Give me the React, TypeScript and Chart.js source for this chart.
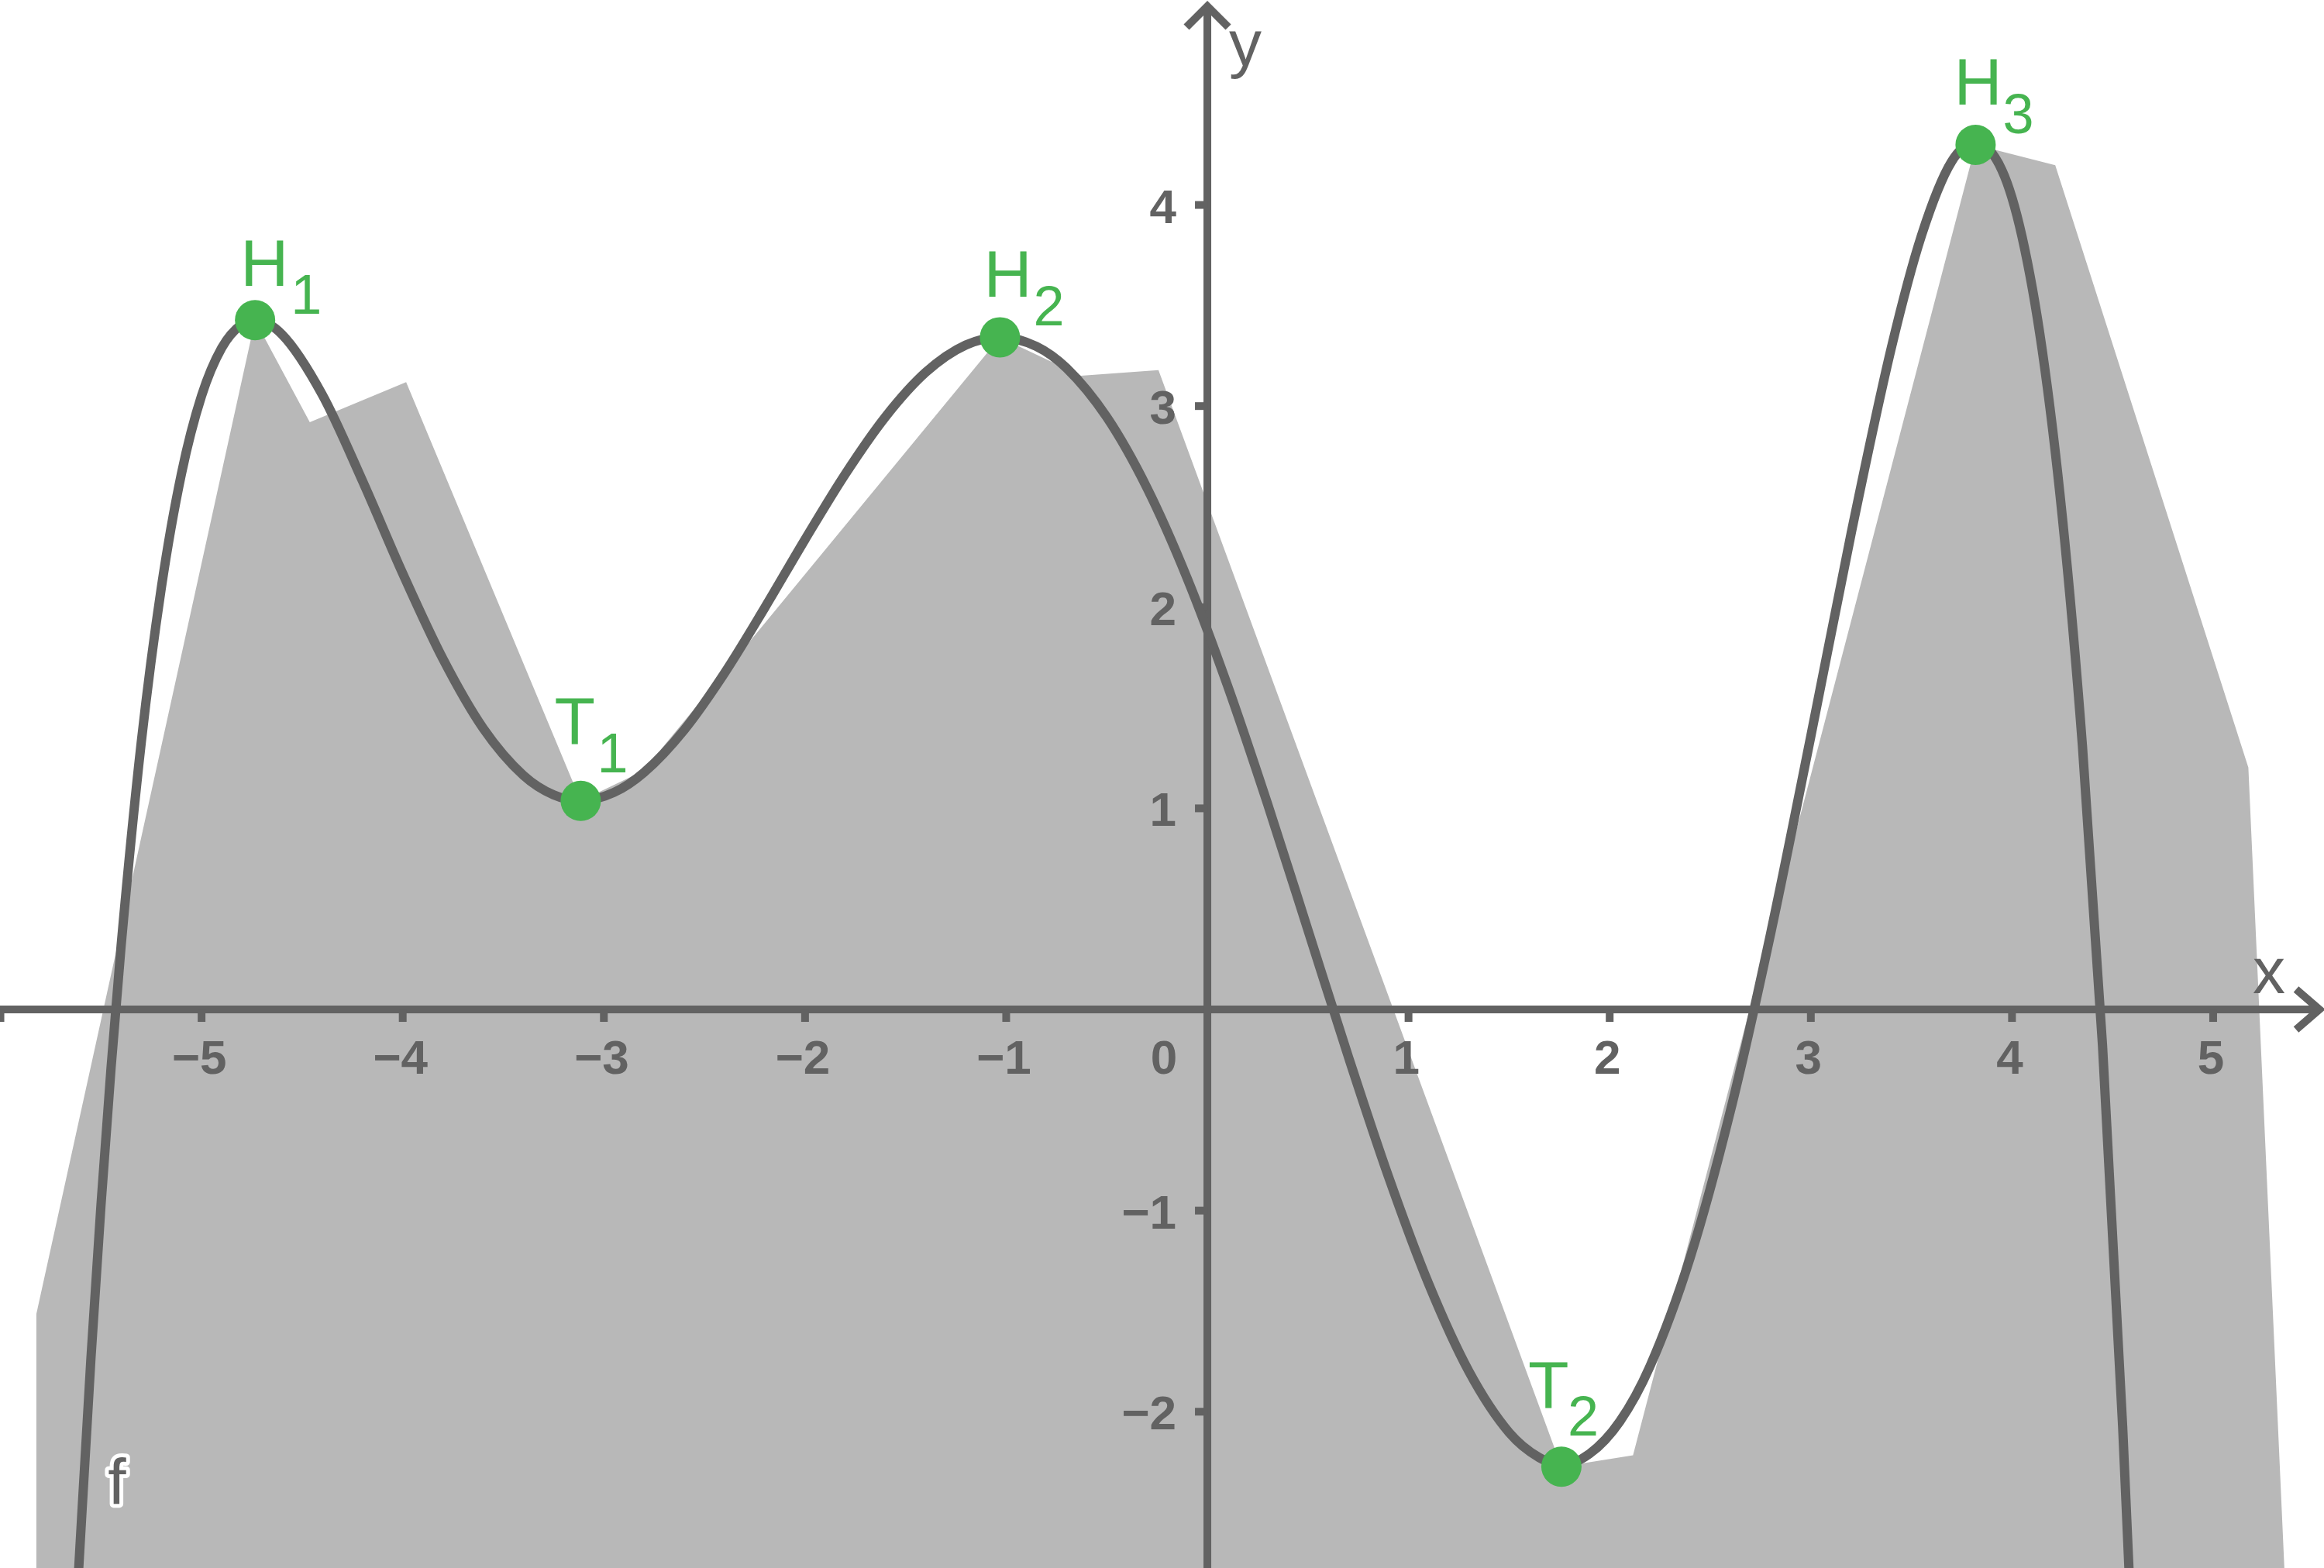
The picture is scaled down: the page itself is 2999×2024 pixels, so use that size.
import React, { useEffect, useRef } from 'react';
import { Chart, registerables } from 'chart.js';

Chart.register(...registerables);

// ---- axis ranges (data units) ----
const X_MIN = -6.002;
const X_MAX = 5.551;
const Y_MIN = -2.777;
const Y_MAX = 5.019;

// ---- the function graph f ----
const curveX = [
  -5.62, -5.55, -5.5, -5.45, -5.4, -5.3, -5.2, -5.1, -5.0, -4.9,
  -4.8, -4.734, -4.6, -4.4, -4.2, -4.0, -3.8, -3.6, -3.4, -3.25,
  -3.115, -2.95, -2.8, -2.6, -2.4, -2.2, -2.0, -1.8, -1.6, -1.4,
  -1.2, -1.031, -0.85, -0.7, -0.5, -0.3, -0.1, 0.1, 0.3, 0.5,
  0.7, 0.9, 1.1, 1.3, 1.5, 1.65, 1.76, 1.9, 2.05, 2.2,
  2.4, 2.6, 2.8, 3.0, 3.2, 3.4, 3.55, 3.7, 3.819, 3.95,
  4.05, 4.15, 4.25, 4.35, 4.45, 4.55, 4.62,
];
const curveY = [
  -2.942, -1.736, -0.973, -0.291, 0.316, 1.326, 2.097, 2.664, 3.051, 3.289,
  3.407, 3.427, 3.356, 3.057, 2.628, 2.168, 1.743, 1.398, 1.164, 1.067,
  1.038, 1.079, 1.179, 1.391, 1.673, 1.998, 2.337, 2.662, 2.947, 3.168,
  3.304, 3.342, 3.297, 3.189, 2.945, 2.593, 2.143, 1.611, 1.02, 0.395,
  -0.232, -0.83, -1.364, -1.799, -2.103, -2.228, -2.265, -2.209, -2.049, -1.775,
  -1.234, -0.505, 0.377, 1.359, 2.365, 3.289, 3.848, 4.216, 4.308, 4.173,
  3.842, 3.28, 2.45, 1.312, -0.18, -2.072, -3.666,
];

// ---- grey polygon (vertices) ----
const shadeX = [-5.822, -4.734, -4.462, -3.983, -3.115, -2.804, -1.031, -0.628, -0.243, 1.76, 2.116, 3.819, 4.215, 5.175, 5.364];
const shadeY = [-1.517, 3.427, 2.92, 3.119, 1.037, 1.186, 3.342, 3.151, 3.179, -2.273, -2.217, 4.299, 4.198, 1.203, -3.0];

// ---- extrema ----
const extremaX = [-4.734, -3.115, -1.031, 1.76, 3.819];
const extremaY = [3.427, 1.037, 3.342, -2.273, 4.299];
const extremaName = ['H', 'T', 'H', 'T', 'H'];
const extremaIndex = ['1', '1', '2', '2', '3'];

// ---- ticks ----
const xTickValues = [-6, -5, -4, -3, -2, -1, 1, 2, 3, 4, 5];
const xTickLabels = ['', '\u22125', '\u22124', '\u22123', '\u22122', '\u22121', '1', '2', '3', '4', '5'];
const yTickValues = [-2, -1, 1, 2, 3, 4];
const yTickLabels = ['\u22122', '\u22121', '1', '2', '3', '4'];
const originLabel = '0';
const axisNames = ['x', 'y'];
const functionName = 'f';
const functionLabelAt = { x: -5.462, y: -2.461 };

// ---- styles ----
const DARK = '#626262';
const GREY = '#b8b8b8';
const GREEN = '#46b450';
const FONT = '"Liberation Sans", Arial, Helvetica, sans-serif';
const labelMainDX = [-12, -33, -14, -42, -21];
const labelMainDY = [-44, -74, -52, -76, -52];
const labelSubDX = [51, 26, 46, 11, 37];
const labelSubDY = [-8, -37, -15, -40, -15];

function textLeft(ctx: CanvasRenderingContext2D, s: string, left: number, base: number) {
  const m = ctx.measureText(s);
  ctx.fillText(s, left + m.actualBoundingBoxLeft, base);
}

const geoPlugin = {
  id: 'geoAxes',
  afterDatasetDraw(chart: any, args: any) {
    if (args.index !== 2) return;
    const ctx: CanvasRenderingContext2D = chart.ctx;
    const xs = chart.scales.x;
    const ys = chart.scales.y;
    const area = chart.chartArea;
    const ox = xs.getPixelForValue(0);
    const oy = ys.getPixelForValue(0);
    ctx.save();
    ctx.strokeStyle = DARK;
    ctx.fillStyle = DARK;
    ctx.lineWidth = 10;
    ctx.lineCap = 'butt';
    // x axis
    const xTip = area.right - 6;
    ctx.beginPath();
    ctx.moveTo(area.left, oy);
    ctx.lineTo(xTip, oy);
    ctx.stroke();
    ctx.lineJoin = 'miter';
    ctx.beginPath();
    ctx.moveTo(xTip - 30, oy - 26);
    ctx.lineTo(xTip, oy);
    ctx.lineTo(xTip - 30, oy + 26);
    ctx.stroke();
    // y axis
    const yTip = area.top + 8;
    ctx.beginPath();
    ctx.moveTo(ox, area.bottom);
    ctx.lineTo(ox, yTip);
    ctx.stroke();
    ctx.beginPath();
    ctx.moveTo(ox - 27, yTip + 27);
    ctx.lineTo(ox, yTip);
    ctx.lineTo(ox + 27, yTip + 27);
    ctx.stroke();
    // ticks
    xTickValues.forEach((v) => {
      const px = xs.getPixelForValue(v);
      ctx.beginPath();
      ctx.moveTo(px, oy);
      ctx.lineTo(px, oy + 16);
      ctx.stroke();
    });
    yTickValues.forEach((v) => {
      const py = ys.getPixelForValue(v);
      ctx.beginPath();
      ctx.moveTo(ox, py);
      ctx.lineTo(ox - 16, py);
      ctx.stroke();
    });
    // tick labels
    ctx.font = `bold 62px ${FONT}`;
    ctx.textBaseline = 'alphabetic';
    ctx.textAlign = 'center';
    xTickValues.forEach((v, i) => {
      if (!xTickLabels[i]) return;
      ctx.fillText(xTickLabels[i], xs.getPixelForValue(v) - 3, oy + 83);
    });
    ctx.fillText(originLabel, ox - 56, oy + 83);
    ctx.textAlign = 'right';
    yTickValues.forEach((v, i) => {
      ctx.fillText(yTickLabels[i], ox - 40, ys.getPixelForValue(v) + 23);
    });
    // axis names
    ctx.textAlign = 'left';
    ctx.font = `84px ${FONT}`;
    textLeft(ctx, axisNames[0], area.right - 92, oy - 21);
    textLeft(ctx, axisNames[1], ox + 28, area.top + 85);
    ctx.restore();
  },
  afterDatasetsDraw(chart: any) {
    const ctx: CanvasRenderingContext2D = chart.ctx;
    const xs = chart.scales.x;
    const ys = chart.scales.y;
    ctx.save();
    ctx.textAlign = 'left';
    ctx.textBaseline = 'alphabetic';
    // function name with white halo
    ctx.font = `84px ${FONT}`;
    const fx = xs.getPixelForValue(functionLabelAt.x);
    const fy = ys.getPixelForValue(functionLabelAt.y);
    const m = ctx.measureText(functionName);
    ctx.lineWidth = 10;
    ctx.lineJoin = 'round';
    ctx.strokeStyle = '#ffffff';
    ctx.strokeText(functionName, fx + m.actualBoundingBoxLeft, fy);
    ctx.fillStyle = DARK;
    ctx.fillText(functionName, fx + m.actualBoundingBoxLeft, fy);
    // extrema labels
    ctx.fillStyle = GREEN;
    extremaX.forEach((x, i) => {
      const px = xs.getPixelForValue(x);
      const py = ys.getPixelForValue(extremaY[i]);
      ctx.font = `86px ${FONT}`;
      textLeft(ctx, extremaName[i], px + labelMainDX[i], py + labelMainDY[i]);
      ctx.font = `72px ${FONT}`;
      textLeft(ctx, extremaIndex[i], px + labelSubDX[i], py + labelSubDY[i]);
    });
    ctx.restore();
  },
};

export default function App() {
  const ref = useRef<HTMLCanvasElement>(null);
  useEffect(() => {
    document.body.style.margin = '0';
    document.body.style.overflow = 'hidden';
    const canvas = ref.current as HTMLCanvasElement;
    const curve = curveX.map((x, i) => ({ x, y: curveY[i] }));
    const shade = shadeX.map((x, i) => ({ x, y: shadeY[i] }));
    const extrema = extremaX.map((x, i) => ({ x, y: extremaY[i] }));
    const chart = new Chart(canvas, {
      type: 'line',
      data: {
        datasets: [
          {
            label: 'extrema',
            data: extrema,
            showLine: false,
            pointRadius: 26,
            pointHoverRadius: 26,
            pointBackgroundColor: GREEN,
            pointBorderWidth: 0,
            clip: false,
            order: 0,
          } as any,
          {
            label: 'f',
            data: curve,
            borderColor: DARK,
            borderWidth: 12,
            pointRadius: 0,
            cubicInterpolationMode: 'monotone',
            fill: false,
            order: 1,
          } as any,
          {
            label: 'shade',
            data: shade,
            borderWidth: 0,
            borderColor: 'rgba(0,0,0,0)',
            backgroundColor: GREY,
            pointRadius: 0,
            tension: 0,
            fill: 'start',
            order: 2,
          } as any,
        ],
      },
      options: {
        animation: false,
        responsive: false,
        devicePixelRatio: 1,
        events: [],
        layout: { padding: 0, autoPadding: false },
        plugins: { legend: { display: false }, tooltip: { enabled: false } },
        scales: {
          x: { type: 'linear', min: X_MIN, max: X_MAX, display: false },
          y: { type: 'linear', min: Y_MIN, max: Y_MAX, display: false },
        },
      } as any,
      plugins: [geoPlugin as any],
    });
    return () => chart.destroy();
  }, []);
  return <canvas ref={ref} width={2999} height={2024} style={{ display: 'block' }} />;
}
